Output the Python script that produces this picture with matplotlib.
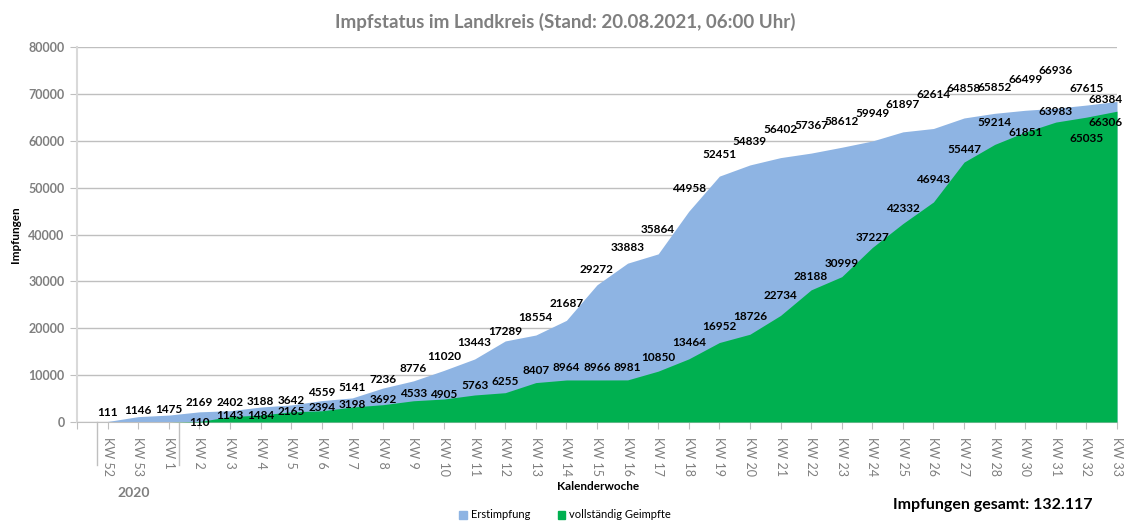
import numpy as np
import matplotlib.pyplot as plt
from matplotlib.patches import Patch
from matplotlib.transforms import blended_transform_factory

plt.rcParams['font.family'] = ['Lato', 'DejaVu Sans']

# calendar weeks (KW 52/53 are 2020)
weeks = ['KW 52', 'KW 53', 'KW 1', 'KW 2', 'KW 3', 'KW 4', 'KW 5', 'KW 6', 'KW 7',
         'KW 8', 'KW 9', 'KW 10', 'KW 11', 'KW 12', 'KW 13', 'KW 14', 'KW 15',
         'KW 16', 'KW 17', 'KW 18', 'KW 19', 'KW 20', 'KW 21', 'KW 22', 'KW 23',
         'KW 24', 'KW 25', 'KW 26', 'KW 27', 'KW 28', 'KW 30', 'KW 31', 'KW 32', 'KW 33']

erstimpfung = [111, 1146, 1475, 2169, 2402, 3188, 3642, 4559, 5141, 7236, 8776,
               11020, 13443, 17289, 18554, 21687, 29272, 33883, 35864, 44958,
               52451, 54839, 56402, 57367, 58612, 59949, 61897, 62614, 64858,
               65852, 66499, 66936, 67615, 68384]

geimpft = [None, None, None, 110, 1143, 1484, 2165, 2394, 3198, 3692, 4533, 4905,
           5763, 6255, 8407, 8964, 8966, 8981, 10850, 13464, 16952, 18726, 22734,
           28188, 30999, 37227, 42332, 46943, 55447, 59214, 61851, 63983, 65035, 66306]

# label shifts in pixels (labels were moved by hand in the original)
erst_shift = [9, 6, 6, 9, 8, 6, 4, 8, 10, 9, 12, 14, 16, 9, 18, 17, 15, 16, 24, 23,
              22, 23, 28, 28, 26, 27, 27, 34, 29, 26, 31, 38, 17, 2]
geimpft_shift = [0, 0, 0, -1, 1, 0, 0, 3, 3, 5, 7, 5, 9, 11, 12, 12, 12, 12, 14, 16,
                 16, 18, 20, 13, 13, 10, 15, 22, 13, 22, 0, 11, -21, -11]

blue = '#8EB4E3'
green = '#00B050'
grey = '#7F7F7F'

x = np.arange(len(weeks))
g = np.array([0 if v is None else v for v in geimpft], dtype=float)

W, H = 1128, 523
fig = plt.figure(figsize=(W / 100, H / 100), dpi=100)
ax = fig.add_axes([77 / W, 1 - 422 / H, (1117 - 77) / W, (422 - 47) / H])

ax.fill_between(x, 0, erstimpfung, color=blue, lw=0, zorder=2)
ax.fill_between(x, 0, g, color=green, lw=0, zorder=3)

last = len(weeks) - 1
for i, v in enumerate(erstimpfung):
    dx = -11 if i == last else 0
    ax.annotate(str(v), (x[i], v), xytext=(dx, erst_shift[i]), textcoords='offset pixels',
                ha='center', va='center', fontsize=8.5, fontweight='bold', zorder=5)
for i, v in enumerate(geimpft):
    if v is None:
        continue
    dx = -11 if i == last else 0
    ax.annotate(str(v), (x[i], v), xytext=(dx, geimpft_shift[i]), textcoords='offset pixels',
                ha='center', va='center', fontsize=8.5, fontweight='bold', zorder=5)

ax.set_xlim(-1, len(weeks) - 1)
ax.set_ylim(0, 80000)
ax.set_yticks(np.arange(0, 80001, 10000))
ax.set_xticks(np.arange(-1, len(weeks)))
ax.set_xticklabels([''] + weeks, rotation=270, color=grey, fontsize=9)
ax.tick_params(axis='x', length=5, color='#BFBFBF', pad=6)
ax.tick_params(axis='y', length=5, color='#BFBFBF', labelcolor=grey, labelsize=9, pad=4)
for lab in ax.get_yticklabels():
    lab.set_fontweight('bold')

ax.grid(axis='y', color='#BFBFBF', lw=1, zorder=0)
ax.set_axisbelow(True)
for s in ['top', 'right']:
    ax.spines[s].set_visible(False)
ax.spines['left'].set_color('#D9D9D9')
ax.spines['left'].set_linewidth(1.5)
ax.spines['bottom'].set_color('#BFBFBF')

# year group separators and label
trans = blended_transform_factory(ax.transData, ax.transAxes)
for sx in [-0.35, 2.35]:
    ax.plot([sx, sx], [0, -0.115], transform=trans, color='#BFBFBF', lw=1, clip_on=False)
ax.text(0.85, -0.19, '2020', transform=trans, ha='center', va='center',
        fontsize=10, fontweight='bold', color=grey)

fig.text(565 / W, 1 - 22 / H, 'Impfstatus im Landkreis (Stand: 20.08.2021, 06:00 Uhr)',
         ha='center', va='center', fontsize=13.5, fontweight='bold', color=grey)
fig.text(15 / W, 1 - 235 / H, 'Impfungen', rotation=90, ha='center', va='center',
         fontsize=8.5, fontweight='bold')
fig.text(598 / W, 1 - 486 / H, 'Kalenderwoche', ha='center', va='center',
         fontsize=8.5, fontweight='bold')
fig.text(993 / W, 1 - 505 / H, 'Impfungen gesamt: 132.117', ha='center', va='center',
         fontsize=11.5, fontweight='bold')

handles = [Patch(color=blue, label='Erstimpfung'), Patch(color=green, label='vollständig Geimpfte')]
fig.legend(handles=handles, loc='center', bbox_to_anchor=(565 / W, 1 - 515 / H), ncol=2,
           frameon=False, fontsize=8, handlelength=0.7, handleheight=0.7,
           handletextpad=0.3, columnspacing=2.5)

fig.savefig('out.png', dpi=100)
